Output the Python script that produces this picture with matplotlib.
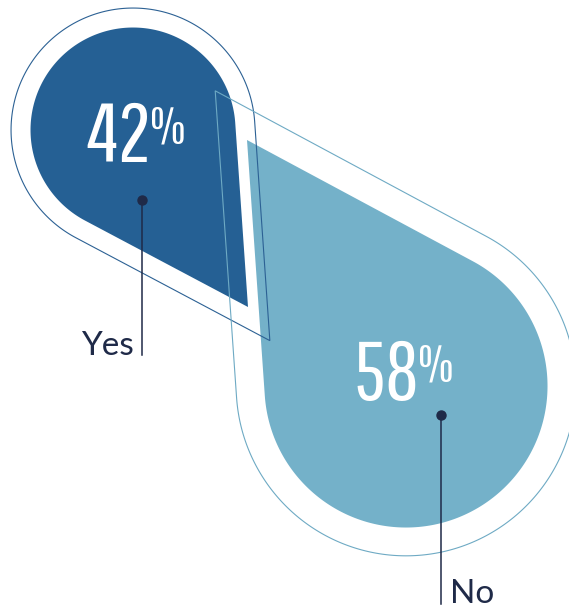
import numpy as np
import matplotlib
matplotlib.use("Agg")
import matplotlib.pyplot as plt
from matplotlib.patches import Polygon

# data
labels = ["Yes", "No"]
values = [42, 58]

# layout (pixel coordinates of the 569x608 canvas)
W, H = 569, 608
centers = [(133, 130), (406, 386)]
tips = [(248, 307), (247, 140)]
px_per_pct = 2.44
outline_scale = [1.19, 1.20]
fill_colors = ["#256094", "#74b1c9"]
edge_colors = ["#2c6194", "#6eaac4"]
ink = "#1f2a48"
dots = [(142, 200), (441, 415)]
line_ends = [355, 604]
pct_pos = [(86, 162), (353, 400)]
num_font = "Pathway Gothic One"


def teardrop(c, r, tip, n=300):
    cx, cy = c
    dx, dy = tip[0] - cx, tip[1] - cy
    d = np.hypot(dx, dy)
    base = np.arctan2(dy, dx)
    a = np.arccos(r / d)
    t = np.linspace(base + a, base + 2 * np.pi - a, n)
    pts = np.column_stack([cx + r * np.cos(t), cy + r * np.sin(t)])
    return np.vstack([pts, [tip]])


fig = plt.figure(figsize=(W / 100, H / 100), dpi=100)
ax = fig.add_axes([0, 0, 1, 1])
ax.set_xlim(0, W)
ax.set_ylim(H, 0)
ax.axis("off")

for i, v in enumerate(values):
    r = v * px_per_pct
    ax.add_patch(Polygon(teardrop(centers[i], r, tips[i]), closed=True,
                         facecolor=fill_colors[i], edgecolor="none", zorder=1))

for i, v in enumerate(values):
    k = outline_scale[i]
    c = np.array(centers[i])
    tip = c + k * (np.array(tips[i]) - c)
    ax.add_patch(Polygon(teardrop(centers[i], v * px_per_pct * k, tip), closed=True,
                         facecolor="none", edgecolor=edge_colors[i], lw=0.8, zorder=2))

# percentages: big number, small % sign right after it
renderer = fig.canvas.get_renderer()
for (x, y), v in zip(pct_pos, values):
    t = ax.text(x, y, str(v), color="white", fontsize=60, family=num_font,
                ha="left", va="baseline", zorder=3)
    bb = t.get_window_extent(renderer).transformed(ax.transData.inverted())
    ax.text(bb.x1 - 1, y - 19, "%", color="white", fontsize=37, family=num_font,
            ha="left", va="baseline", zorder=3)

# leader lines and labels
for i, lab in enumerate(labels):
    x, y = dots[i]
    ax.plot([x, x], [y, line_ends[i]], color=ink, lw=1.1, zorder=4)
    ax.plot(x, y, "o", color=ink, ms=6.5, zorder=5)

ax.text(134, 355, labels[0], color=ink, fontsize=24, family="Lato",
        ha="right", va="baseline")
ax.text(450, 603, labels[1], color=ink, fontsize=24, family="Lato",
        ha="left", va="baseline")

fig.savefig("out.png", dpi=100)
